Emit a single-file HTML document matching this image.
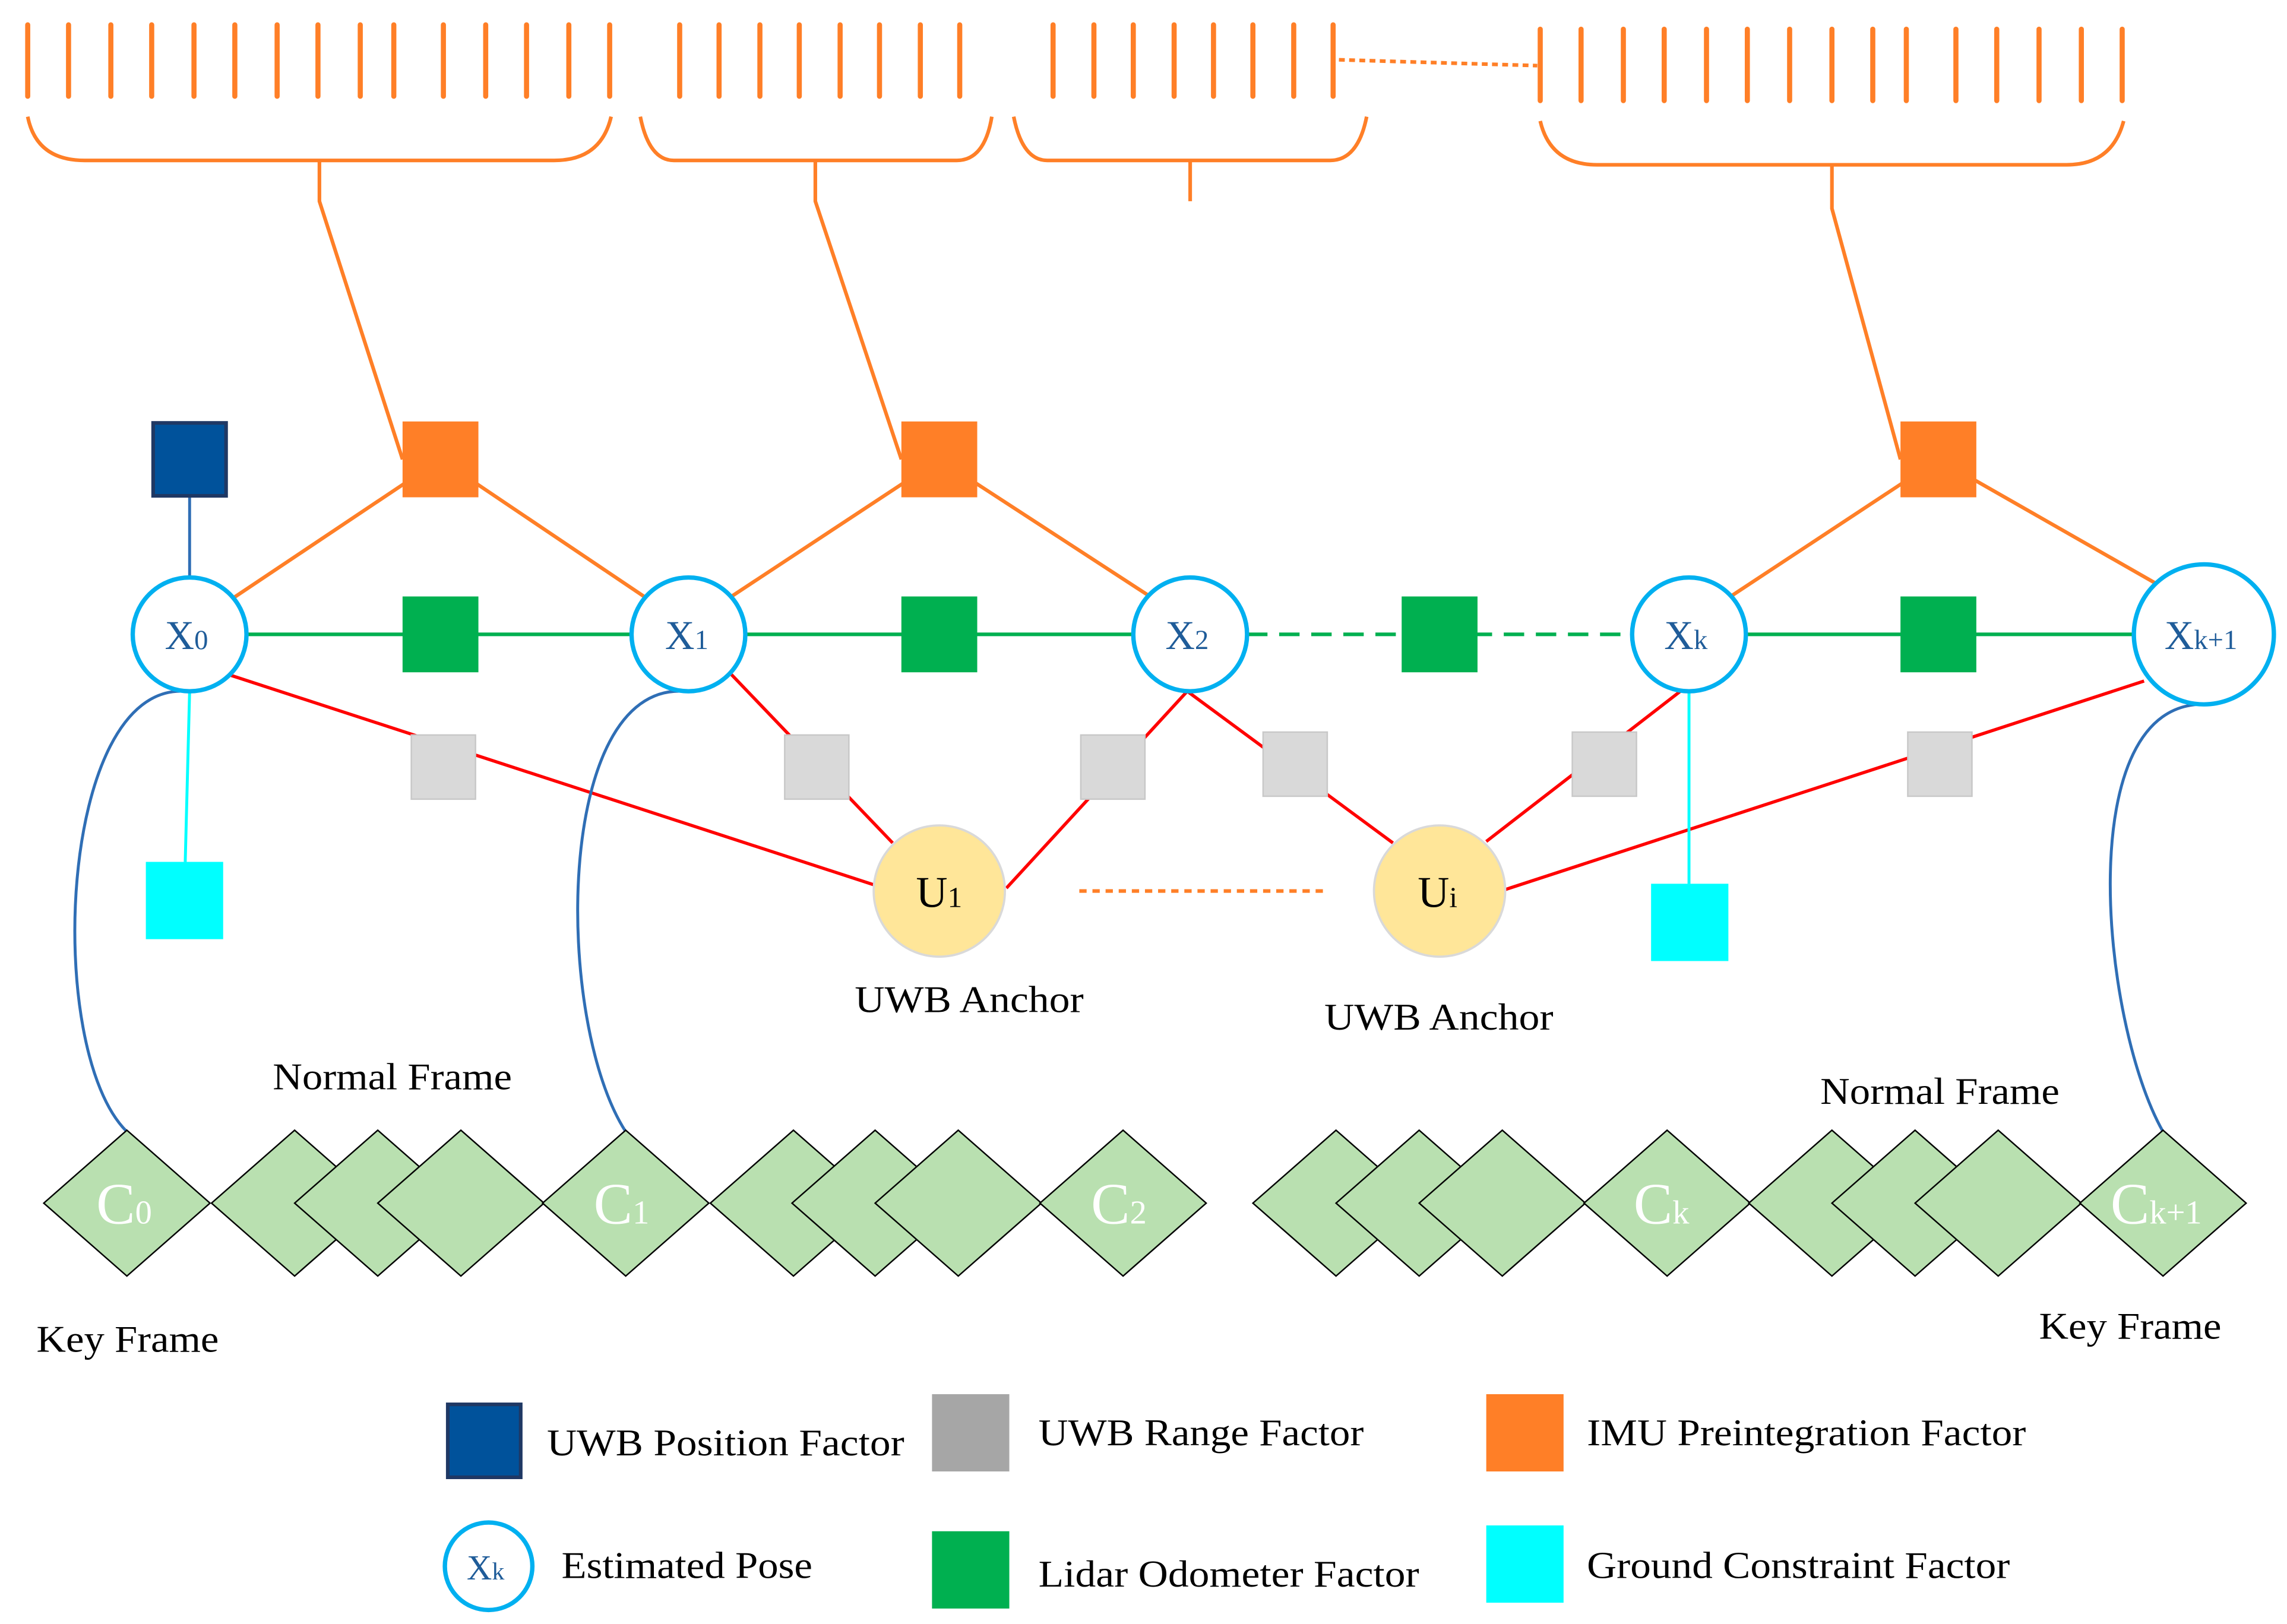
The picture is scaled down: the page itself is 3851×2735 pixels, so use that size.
<!DOCTYPE html>
<html><head><meta charset="utf-8"><style>
html,body{margin:0;padding:0;background:#fff}
svg{display:block}
text{font-family:"Liberation Serif",serif;fill:#000}
</style></head><body>
<svg width="3851" height="2735" viewBox="0 0 1568 1113.6" xmlns="http://www.w3.org/2000/svg">
<g stroke="#FF7F27" stroke-width="3.5" stroke-linecap="round">
<path d="M19 17V66M47 17V66M76 17V66M104 17V66M133 17V66M161 17V66M190 17V66M218 17V66M247 17V66M270 17V66M304 17V66M333 17V66M361 17V66M390 17V66M418 17V66"/>
<path d="M466 17V66M493 17V66M521 17V66M548 17V66M576 17V66M603 17V66M631 17V66M658 17V66"/>
<path d="M722 17V66M750 17V66M777 17V66M805 17V66M832 17V66M859 17V66M887 17V66M914 17V66"/>
<path d="M1056 20V69M1084 20V69M1113 20V69M1141 20V69M1170 20V69M1198 20V69M1227 20V69M1256 20V69M1284 20V69M1307 20V69M1341 20V69M1369 20V69M1398 20V69M1427 20V69M1455 20V69"/>
</g>
<line x1="918" y1="41" x2="1054" y2="45" stroke="#FF7F27" stroke-width="2.5" stroke-dasharray="4,3"/>
<g fill="none" stroke="#FF7F27" stroke-width="2.5">
<path d="M19 80 Q25 110 58 110 H380 Q412 110 419 80"/>
<path d="M439 80 Q445 110 462 110 H656 Q675 110 680 80"/>
<path d="M695 80 Q701 110 718 110 H912 Q931 110 937 80"/>
<path d="M1056 83 Q1063 113 1095 113 H1417 Q1448 113 1456 83"/>
<path d="M219 110V138L276 315"/>
<path d="M559 110V138L618 315"/>
<path d="M816 110V138"/>
<path d="M1256 113V143L1303 315"/>
<path d="M160 410L302 315L443 410M500 410L644 315L790 410M1185 410L1329 315L1478 400"/>
</g>
<g stroke="#00B050" stroke-width="2.5">
<path d="M169 435H433M511 435H777"/>
<path d="M855 435H1119" stroke-dasharray="14,8"/>
<path d="M1197 435H1462"/>
</g>
<g stroke="#FF0000" stroke-width="2.2" fill="none">
<path d="M158 463L600 607M500 461L612 578M690 609L814 474L955 578M1019 577L1156 471M1032 610L1470 467"/>
</g>
<line x1="130" y1="340" x2="130" y2="396" stroke="#2F6EB5" stroke-width="2"/>
<line x1="130" y1="474" x2="127" y2="591" stroke="#00FFFF" stroke-width="2"/>
<line x1="1158" y1="474" x2="1158" y2="606" stroke="#00FFFF" stroke-width="2"/>
<line x1="740" y1="611" x2="908" y2="611" stroke="#FF7F27" stroke-width="2.5" stroke-dasharray="5,4"/>
<g fill="none" stroke="#2F6EB5" stroke-width="2">
<path d="M126 474C40 470 30 720 87 776"/>
<path d="M468 474C380 470 380 700 429 776"/>
<path d="M1512 483C1420 480 1440 700 1483 776"/>
</g>
<g fill="#FF7F27"><rect x="276" y="289" width="52" height="52"/><rect x="618" y="289" width="52" height="52"/><rect x="1303" y="289" width="52" height="52"/></g>
<g fill="#00B050"><rect x="276" y="409" width="52" height="52"/><rect x="618" y="409" width="52" height="52"/><rect x="961" y="409" width="52" height="52"/><rect x="1303" y="409" width="52" height="52"/></g>
<g fill="#D9D9D9" stroke="#C8C8C8"><rect x="282" y="504" width="44" height="44"/><rect x="538" y="504" width="44" height="44"/><rect x="741" y="504" width="44" height="44"/><rect x="866" y="502" width="44" height="44"/><rect x="1078" y="502" width="44" height="44"/><rect x="1308" y="502" width="44" height="44"/></g>
<rect x="105" y="290" width="50" height="50" fill="#00529B" stroke="#1F3864" stroke-width="2.5"/>
<rect x="100" y="591" width="53" height="53" fill="#00FFFF"/>
<rect x="1132" y="606" width="53" height="53" fill="#00FFFF"/>
<g fill="#fff" stroke="#00B0F0" stroke-width="3">
<circle cx="130" cy="435" r="39"/><circle cx="472" cy="435" r="39"/><circle cx="816" cy="435" r="39"/><circle cx="1158" cy="435" r="39"/><circle cx="1511" cy="435" r="48"/>
</g>
<g font-size="28">
<text x="113" y="445" style="fill:#1F5C99">X<tspan font-size="19">0</tspan></text>
<text x="456" y="445" style="fill:#1F5C99">X<tspan font-size="19">1</tspan></text>
<text x="799" y="445" style="fill:#1F5C99">X<tspan font-size="19">2</tspan></text>
<text x="1141" y="445" style="fill:#1F5C99">X<tspan font-size="19">k</tspan></text>
<text x="1484" y="445" style="fill:#1F5C99">X<tspan font-size="19">k+1</tspan></text>
</g>
<g fill="#FFE699" stroke="#D9D9D9" stroke-width="1.5"><circle cx="644" cy="611" r="45"/><circle cx="987" cy="611" r="45"/></g>
<text x="628" y="622" font-size="30">U<tspan font-size="20">1</tspan></text>
<text x="972" y="622" font-size="30">U<tspan font-size="20">i</tspan></text>
<g font-size="26" lengthAdjust="spacingAndGlyphs">
<text x="586" y="694" textLength="157" lengthAdjust="spacingAndGlyphs">UWB Anchor</text>
<text x="908" y="706" textLength="157" lengthAdjust="spacingAndGlyphs">UWB Anchor</text>
<text x="187" y="747" textLength="164" lengthAdjust="spacingAndGlyphs">Normal Frame</text>
<text x="1248" y="757" textLength="164" lengthAdjust="spacingAndGlyphs">Normal Frame</text>
<text x="25" y="927" textLength="125" lengthAdjust="spacingAndGlyphs">Key Frame</text>
<text x="1398" y="918" textLength="125" lengthAdjust="spacingAndGlyphs">Key Frame</text>
</g>
<g fill="#B9E0B0" stroke="#000" stroke-width="1">
<path d="M87 775L144 825L87 875L30 825Z"/>
<path d="M202 775L259 825L202 875L145 825Z"/>
<path d="M259 775L316 825L259 875L202 825Z"/>
<path d="M316 775L373 825L316 875L259 825Z"/>
<path d="M429 775L486 825L429 875L372 825Z"/>
<path d="M544 775L601 825L544 875L487 825Z"/>
<path d="M600 775L657 825L600 875L543 825Z"/>
<path d="M657 775L714 825L657 875L600 825Z"/>
<path d="M770 775L827 825L770 875L713 825Z"/>
<path d="M916 775L973 825L916 875L859 825Z"/>
<path d="M973 775L1030 825L973 875L916 825Z"/>
<path d="M1030 775L1087 825L1030 875L973 825Z"/>
<path d="M1143 775L1200 825L1143 875L1086 825Z"/>
<path d="M1256 775L1313 825L1256 875L1199 825Z"/>
<path d="M1313 775L1370 825L1313 875L1256 825Z"/>
<path d="M1370 775L1427 825L1370 875L1313 825Z"/>
<path d="M1483 775L1540 825L1483 875L1426 825Z"/>
</g>
<g font-size="40">
<text x="66" y="839" style="fill:#fff">C<tspan font-size="23">0</tspan></text>
<text x="407" y="839" style="fill:#fff">C<tspan font-size="23">1</tspan></text>
<text x="748" y="839" style="fill:#fff">C<tspan font-size="23">2</tspan></text>
<text x="1120" y="839" style="fill:#fff">C<tspan font-size="23">k</tspan></text>
<text x="1447" y="839" style="fill:#fff">C<tspan font-size="23">k+1</tspan></text>
</g>
<rect x="307" y="963" width="50" height="50" fill="#00529B" stroke="#1F3864" stroke-width="2.5"/>
<text x="375" y="998" font-size="26" textLength="245" lengthAdjust="spacingAndGlyphs">UWB Position Factor</text>
<rect x="639" y="956" width="53" height="53" fill="#A6A6A6"/>
<text x="712" y="991" font-size="26" textLength="223" lengthAdjust="spacingAndGlyphs">UWB Range Factor</text>
<rect x="1019" y="956" width="53" height="53" fill="#FF7F27"/>
<text x="1088" y="991" font-size="26" textLength="301" lengthAdjust="spacingAndGlyphs">IMU Preintegration Factor</text>
<circle cx="335" cy="1074" r="30" fill="#fff" stroke="#00B0F0" stroke-width="3"/>
<text x="320" y="1083" font-size="24" style="fill:#1F5C99">X<tspan font-size="17">k</tspan></text>
<text x="385" y="1082" font-size="26" textLength="172" lengthAdjust="spacingAndGlyphs">Estimated Pose</text>
<rect x="639" y="1050" width="53" height="53" fill="#00B050"/>
<text x="712" y="1088" font-size="26" textLength="261" lengthAdjust="spacingAndGlyphs">Lidar Odometer Factor</text>
<rect x="1019" y="1046" width="53" height="53" fill="#00FFFF"/>
<text x="1088" y="1082" font-size="26" textLength="290" lengthAdjust="spacingAndGlyphs">Ground Constraint Factor</text>
</svg>
</body></html>
